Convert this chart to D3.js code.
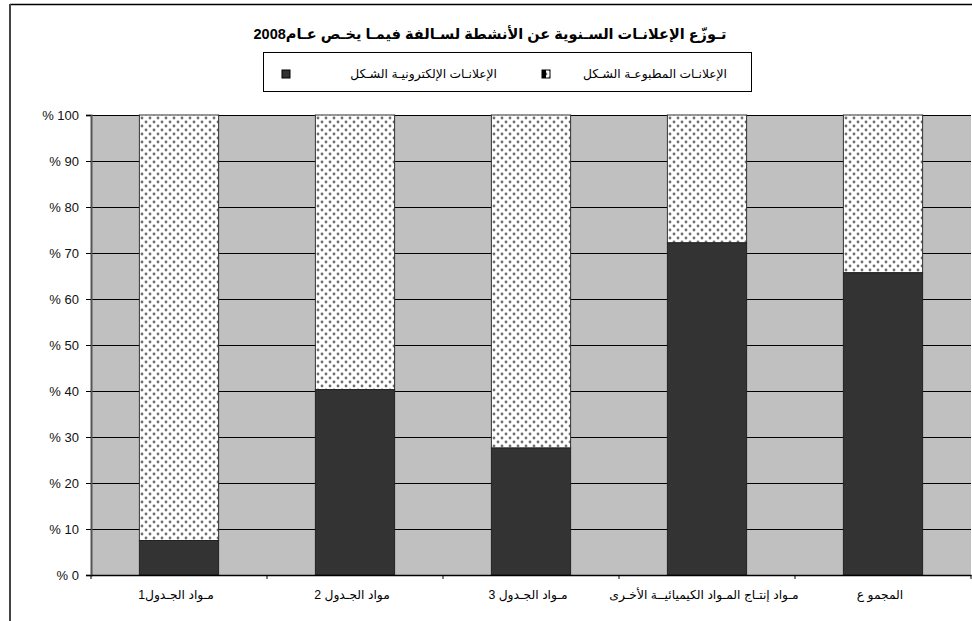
<!DOCTYPE html>
<html><head><meta charset="utf-8">
<script src="https://cdn.jsdelivr.net/npm/d3@7"></script>
<style>
body{margin:0;background:#fff;}
svg{display:block;font-family:Arial,"Liberation Sans","DejaVu Sans",sans-serif;}
</style></head>
<body>
<script>
const title = "تـوزّع الإعلانـات السـنوية عن الأنشطة لسـالفة فيمـا يخـص عـام2008";
const categories = ["مـواد الجـدول1","مواد الجـدول 2","مـواد الجـدول 3","مـواد إنتـاج المـواد الكيميائيــة الأخـرى","المجمو ع"];
const electronic = [7.5, 40.3, 27.6, 72.2, 65.7];
const printed = [92.5, 59.7, 72.4, 27.8, 34.3];
const seriesNames = ["الإعلانـات المطبوعـة الشـكل","الإعلانـات الإلكترونيـة الشـكل"];
const yTicks = [0,10,20,30,40,50,60,70,80,90,100];

const W=972,H=621;
const svg=d3.select("body").append("svg").attr("width",W).attr("height",H);
const defs=svg.append("defs");
const pat=defs.append("pattern").attr("id","dots").attr("patternUnits","userSpaceOnUse")
 .attr("width",8).attr("height",8);
pat.append("rect").attr("width",8).attr("height",8).attr("fill","#fff");
pat.append("circle").attr("cx",2).attr("cy",2).attr("r",1.4).attr("fill","#707070");
pat.append("circle").attr("cx",6).attr("cy",6).attr("r",1.4).attr("fill","#707070");

// outer frame
svg.append("line").attr("x1",10).attr("x2",W).attr("y1",4.5).attr("y2",4.5).attr("stroke","#000").attr("stroke-width",1.5);
svg.append("line").attr("x1",10).attr("x2",10).attr("y1",4).attr("y2",H).attr("stroke","#444").attr("stroke-width",2);

const m={l:91,r:971,t:115,b:575};
const x=d3.scaleBand().domain(categories).range([m.l,m.r]).paddingInner(0.55).paddingOuter(0.275);
const xb=d3.scaleBand().domain(categories).range([m.l,m.r]);
const y=d3.scaleLinear().domain([0,100]).range([m.b,m.t]);

svg.append("rect").attr("x",m.l).attr("y",m.t).attr("width",m.r-m.l).attr("height",m.b-m.t).attr("fill","#c0c0c0");

// gridlines
svg.append("g").selectAll("line").data(yTicks.filter(d=>d>0)).join("line")
 .attr("x1",m.l).attr("x2",m.r).attr("y1",d=>Math.round(y(d))+0.5).attr("y2",d=>Math.round(y(d))+0.5)
 .attr("stroke","#000").attr("stroke-width",1);

// bars
const g=svg.append("g");
categories.forEach((c,i)=>{
  g.append("rect").attr("x",x(c)).attr("width",x.bandwidth())
   .attr("y",y(electronic[i]+printed[i])).attr("height",y(electronic[i])-y(electronic[i]+printed[i]))
   .attr("fill","url(#dots)").attr("stroke","#333").attr("stroke-width",1);
  g.append("rect").attr("x",x(c)).attr("width",x.bandwidth())
   .attr("y",y(electronic[i])).attr("height",y(0)-y(electronic[i]))
   .attr("fill","#333333").attr("stroke","#222").attr("stroke-width",1);
});

// y axis
const ya=svg.append("g").attr("transform",`translate(${m.l},0)`)
 .call(d3.axisLeft(y).tickValues(yTicks).tickSize(5).tickPadding(7).tickFormat(d=>"% "+d));
ya.select(".domain").attr("stroke","#555").attr("stroke-width",2);
ya.selectAll(".tick line").attr("stroke","#000");
ya.selectAll(".tick text").attr("font-size",13).attr("font-weight","normal").attr("fill","#111")
 .attr("font-family","Arial,'Liberation Sans',sans-serif");

// x axis
const xa=svg.append("g").attr("transform",`translate(0,${m.b})`)
 .call(d3.axisBottom(xb).tickSize(0).tickFormat(""));
xa.select(".domain").attr("stroke","#000").attr("stroke-width",1.5);
xa.selectAll(".tick").remove();
xa.selectAll("line.sep").data(d3.range(categories.length+1)).join("line").attr("class","sep")
 .attr("x1",i=>m.l+i*xb.step()).attr("x2",i=>m.l+i*xb.step()).attr("y1",0).attr("y2",4).attr("stroke","#000");
svg.append("g").selectAll("text").data(categories).join("text")
 .attr("x",d=>xb(d)+xb.bandwidth()/2-3).attr("y",599).attr("text-anchor","middle")
 .attr("direction","rtl").attr("font-size",12.3).attr("fill","#000").text(d=>d);

// title
svg.append("text").attr("x",490).attr("y",39).attr("text-anchor","middle").attr("direction","rtl")
 .attr("font-size",14.5).attr("font-weight","bold").attr("fill","#000").text(title);

// legend
svg.append("rect").attr("x",263.5).attr("y",52.5).attr("width",488).attr("height",39)
 .attr("fill","#fff").attr("stroke","#000").attr("stroke-width",1);
const lg=svg.append("g");
lg.append("rect").attr("x",542).attr("y",70).attr("width",8).attr("height",8).attr("fill","url(#dots)").attr("stroke","#000");
lg.append("rect").attr("x",542).attr("y",70).attr("width",4).attr("height",8).attr("fill","#000");
lg.append("text").attr("x",727).attr("y",78).attr("text-anchor","start").attr("direction","rtl")
 .attr("font-size",12.3).attr("fill","#000").text(seriesNames[0]);
lg.append("rect").attr("x",282).attr("y",70).attr("width",8).attr("height",8).attr("fill","#333").attr("stroke","#000");
lg.append("text").attr("x",497).attr("y",78).attr("text-anchor","start").attr("direction","rtl")
 .attr("font-size",12.3).attr("fill","#000").text(seriesNames[1]);
</script>
</body></html>
